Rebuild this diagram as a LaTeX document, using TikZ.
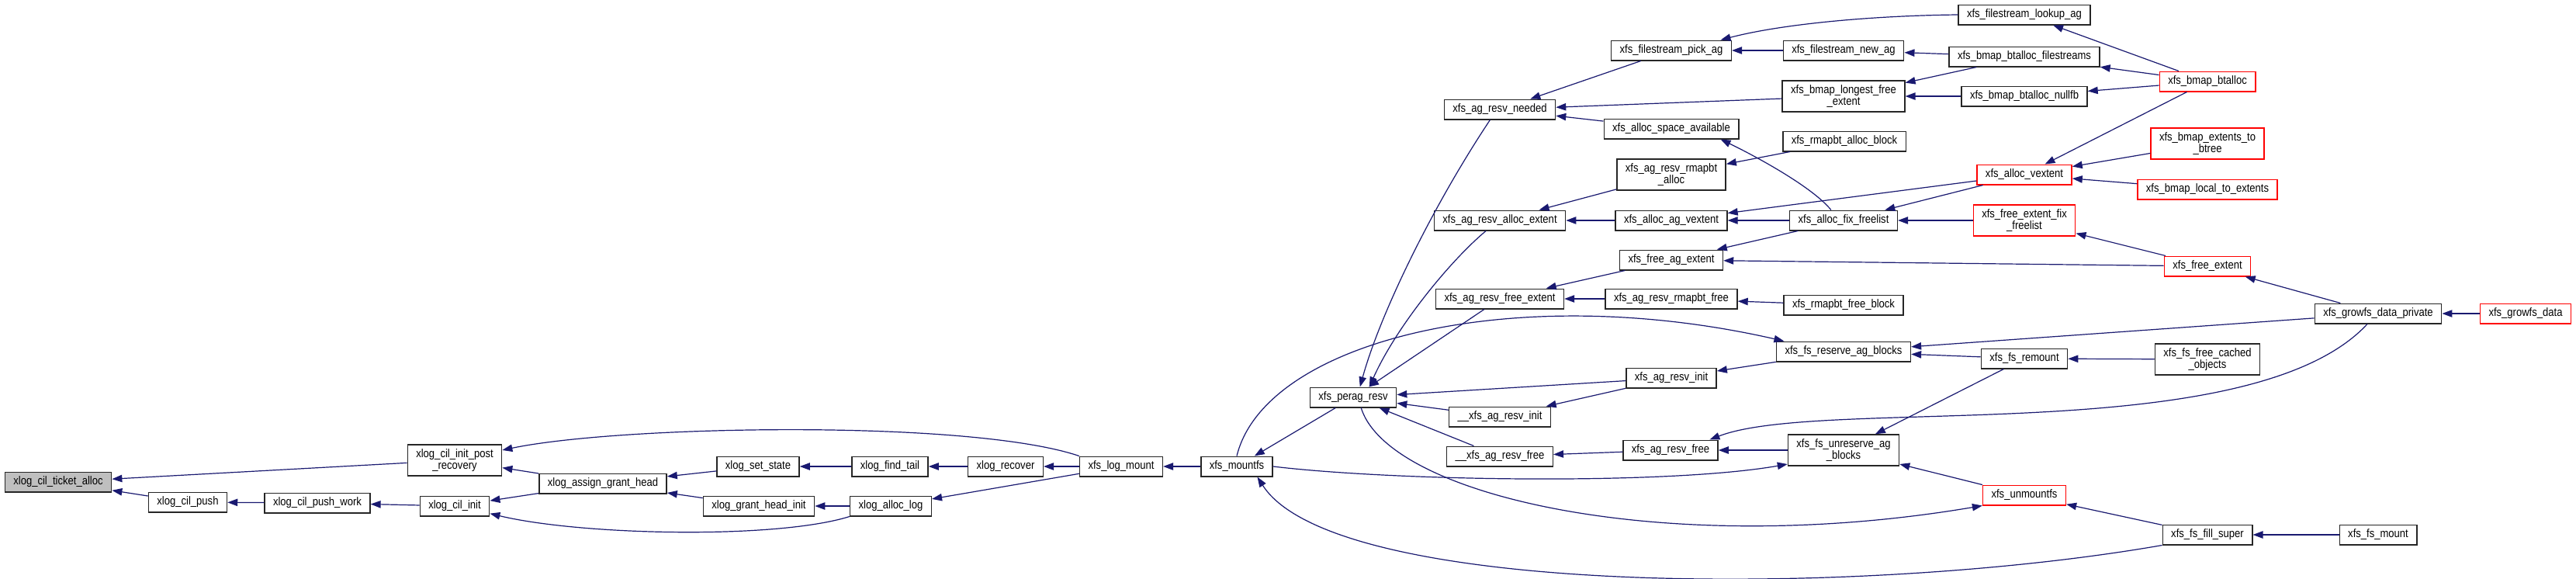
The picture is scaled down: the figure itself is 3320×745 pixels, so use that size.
\documentclass[tikz,border=0pt]{standalone}
\usepackage{fontspec}
\setmainfont{Liberation Sans}[FakeStretch=0.87]
\usepackage{tikz}
\usepackage{xcolor}
\usetikzlibrary{arrows.meta}

\definecolor{edgeblue}{HTML}{191970}
\definecolor{rootgrey}{HTML}{BFBFBF}

\begin{document}
\begin{tikzpicture}[x=0.5pt, y=-0.5pt,
    fn/.style={draw=black!85, line width=0.7pt, fill=white, font=\fontsize{7.5}{7.5}\selectfont,
        inner xsep=5.5pt, inner ysep=2.8pt, minimum height=12.8pt, align=center},
    rootfn/.style={fn, fill=rootgrey},
    cutfn/.style={fn, draw=red},
    calledge/.style={draw=edgeblue, line width=0.6pt, {Triangle[length=6.5pt,width=4.7pt]}-}]
        \path[use as bounding box, fill=white] (0,0) rectangle (3320,745);

        % ============================================================
        % xlog side - left
        % ============================================================
        \node[rootfn] (tickalloc) at (75,621) {xlog\_cil\_ticket\_alloc};
        \node[fn] (postrec) at (586,593) {xlog\_cil\_init\_post\\\_recovery};
        \node[fn] (cilpush) at (242,647) {xlog\_cil\_push};
        \node[fn] (pushwork) at (409,648) {xlog\_cil\_push\_work};
        \node[fn] (cilinit) at (586,652) {xlog\_cil\_init};
        \node[fn] (assign) at (777,623) {xlog\_assign\_grant\_head};
        \node[fn] (setstate) at (977,601) {xlog\_set\_state};
        \node[fn] (grantinit) at (978,652) {xlog\_grant\_head\_init};
        \node[fn] (findtail) at (1147,601) {xlog\_find\_tail};
        \node[fn] (alloclog) at (1148,652) {xlog\_alloc\_log};
        \node[fn] (recover) at (1296,601) {xlog\_recover};
        \node[fn] (logmount) at (1445,601) {xfs\_log\_mount};
        \node[fn] (mountfs) at (1594,601) {xfs\_mountfs};

        % ============================================================
        % ag reservation - middle
        % ============================================================
        \node[fn] (perag) at (1744,512) {xfs\_perag\_resv};
        \node[fn] (needed) at (1933,141) {xfs\_ag\_resv\_needed};
        \node[fn] (allocext) at (1933,284) {xfs\_ag\_resv\_alloc\_extent};
        \node[fn] (freeext) at (1933,385) {xfs\_ag\_resv\_free\_extent};
        \node[fn] (resvinitu) at (1933,537) {\_\_xfs\_ag\_resv\_init};
        \node[fn] (resvfreeu) at (1933,588) {\_\_xfs\_ag\_resv\_free};
        \node[fn] (pickag) at (2154,65) {xfs\_filestream\_pick\_ag};
        \node[fn] (spaceavail) at (2154,166) {xfs\_alloc\_space\_available};
        \node[fn] (rmalloc) at (2154,225) {xfs\_ag\_resv\_rmapbt\\\_alloc};
        \node[fn] (agvextent) at (2154,284) {xfs\_alloc\_ag\_vextent};
        \node[fn] (freeagext) at (2154,335) {xfs\_free\_ag\_extent};
        \node[fn] (rmfree) at (2154,385) {xfs\_ag\_resv\_rmapbt\_free};
        \node[fn] (resvinit) at (2154,487) {xfs\_ag\_resv\_init};
        \node[fn] (resvfree) at (2153,580) {xfs\_ag\_resv\_free};
        \node[fn] (newag) at (2376,65) {xfs\_filestream\_new\_ag};
        \node[fn] (longest) at (2376,124) {xfs\_bmap\_longest\_free\\\_extent};
        \node[fn] (rmallocblk) at (2377,182) {xfs\_rmapbt\_alloc\_block};
        \node[fn] (fixfreelist) at (2376,284) {xfs\_alloc\_fix\_freelist};
        \node[fn] (rmfreeblk) at (2376,393) {xfs\_rmapbt\_free\_block};
        \node[fn] (reserve) at (2376,453) {xfs\_fs\_reserve\_ag\_blocks};
        \node[fn] (unreserve) at (2376,580) {xfs\_fs\_unreserve\_ag\\\_blocks};

        % ============================================================
        % bmap / growfs / mount callers - right
        % ============================================================
        \node[fn] (lookup) at (2609,19) {xfs\_filestream\_lookup\_ag};
        \node[fn] (btfilestreams) at (2609,73) {xfs\_bmap\_btalloc\_filestreams};
        \node[fn] (nullfb) at (2609,124) {xfs\_bmap\_btalloc\_nullfb};
        \node[cutfn] (vextent) at (2609,225) {xfs\_alloc\_vextent};
        \node[cutfn] (freefix) at (2609,284) {xfs\_free\_extent\_fix\\\_freelist};
        \node[fn] (remount) at (2609,462) {xfs\_fs\_remount};
        \node[cutfn] (unmountfs) at (2609,638) {xfs\_unmountfs};
        \node[cutfn] (btalloc) at (2845,105) {xfs\_bmap\_btalloc};
        \node[cutfn] (extbtree) at (2845,185) {xfs\_bmap\_extents\_to\\\_btree};
        \node[cutfn] (localext) at (2845,244) {xfs\_bmap\_local\_to\_extents};
        \node[cutfn] (freeextent) at (2845,343) {xfs\_free\_extent};
        \node[fn] (cachedobj) at (2845,463) {xfs\_fs\_free\_cached\\\_objects};
        \node[fn] (fillsuper) at (2845,689) {xfs\_fs\_fill\_super};
        \node[fn] (growfsp) at (3065,404) {xfs\_growfs\_data\_private};
        \node[fn] (fsmount) at (3065,689) {xfs\_fs\_mount};
        \node[cutfn] (growfsdata) at (3255,404) {xfs\_growfs\_data};

        % ============================================================
        % calls, tip at the called function
        % ============================================================
        \draw[calledge] (tickalloc) -- (postrec);
        \draw[calledge] (tickalloc) -- (cilpush);
        \draw[calledge] (cilpush) -- (pushwork);
        \draw[calledge] (pushwork) -- (cilinit);
        \draw[calledge] (postrec) -- (assign);
        \draw[calledge] (cilinit) -- (assign);
        \draw[calledge] (postrec.12) .. controls (800,548) and (1250,540) .. (logmount.north west);
        \draw[calledge] (cilinit.-12) .. controls (750,690) and (1000,695) .. (alloclog.south west);
        \draw[calledge] (assign) -- (setstate);
        \draw[calledge] (assign) -- (grantinit);
        \draw[calledge] (setstate) -- (findtail);
        \draw[calledge] (findtail) -- (recover);
        \draw[calledge] (recover) -- (logmount);
        \draw[calledge] (grantinit) -- (alloclog);
        \draw[calledge] (alloclog) -- (logmount);
        \draw[calledge] (logmount) -- (mountfs);
        \draw[calledge] (mountfs) -- (perag);
        \draw[calledge] (mountfs.-27) .. controls (1720,770) and (2400,770) .. (fillsuper.south west);
        \draw[calledge] (reserve.170) .. controls (1950,360) and (1630,440) .. (mountfs.north);
        \draw[calledge] (unreserve.-166) .. controls (2150,625) and (1800,620) .. (mountfs.east);
        \draw[calledge] (unmountfs.south west) .. controls (2150,720) and (1790,640) .. (perag.-53);

        \draw[calledge] (perag.57) .. controls (1780,400) and (1850,260) .. (needed.-133);
        \draw[calledge] (perag.33) .. controls (1800,420) and (1870,335) .. (allocext.-143);
        \draw[calledge] (perag) -- (freeext);
        \draw[calledge] (perag) -- (resvinit);
        \draw[calledge] (perag) -- (resvinitu);
        \draw[calledge] (perag) -- (resvfreeu);
        \draw[calledge] (resvinitu) -- (resvinit);
        \draw[calledge] (resvinit) -- (reserve);
        \draw[calledge] (resvfreeu) -- (resvfree);
        \draw[calledge] (resvfree) -- (unreserve);
        \draw[calledge] (resvfree.15) .. controls (2350,510) and (2900,580) .. (growfsp.-136);
        \draw[calledge] (unreserve) -- (remount);
        \draw[calledge] (unreserve) -- (unmountfs);
        \draw[calledge] (reserve) -- (growfsp);
        \draw[calledge] (reserve) -- (remount);
        \draw[calledge] (freeext) -- (rmfree);
        \draw[calledge] (rmfree) -- (rmfreeblk);
        \draw[calledge] (freeext) -- (freeagext);
        \draw[calledge] (needed) -- (pickag);
        \draw[calledge] (needed) -- (longest);
        \draw[calledge] (needed) -- (spaceavail);
        \draw[calledge] (spaceavail.-12) .. controls (2260,200) and (2335,240) .. (fixfreelist.140);
        \draw[calledge] (rmalloc) -- (rmallocblk);
        \draw[calledge] (allocext) -- (rmalloc);
        \draw[calledge] (allocext) -- (agvextent);
        \draw[calledge] (agvextent) -- (fixfreelist);
        \draw[calledge] (agvextent) -- (vextent);
        \draw[calledge] (fixfreelist) -- (vextent);
        \draw[calledge] (fixfreelist) -- (freefix);
        \draw[calledge] (freeagext) -- (fixfreelist);
        \draw[calledge] (freeagext) -- (freeextent);
        \draw[calledge] (pickag) -- (newag);
        \draw[calledge] (pickag.12) .. controls (2300,30) and (2420,20) .. (lookup.west);
        \draw[calledge] (newag) -- (btfilestreams);
        \draw[calledge] (longest) -- (btfilestreams);
        \draw[calledge] (longest) -- (nullfb);

        \draw[calledge] (lookup) -- (btalloc);
        \draw[calledge] (btfilestreams) -- (btalloc);
        \draw[calledge] (nullfb) -- (btalloc);
        \draw[calledge] (vextent) -- (btalloc);
        \draw[calledge] (vextent) -- (extbtree);
        \draw[calledge] (vextent) -- (localext);
        \draw[calledge] (freefix) -- (freeextent);
        \draw[calledge] (freeextent) -- (growfsp);
        \draw[calledge] (growfsp) -- (growfsdata);
        \draw[calledge] (remount) -- (cachedobj);
        \draw[calledge] (unmountfs) -- (fillsuper);
        \draw[calledge] (fillsuper) -- (fsmount);

    \end{tikzpicture}
\end{document}
